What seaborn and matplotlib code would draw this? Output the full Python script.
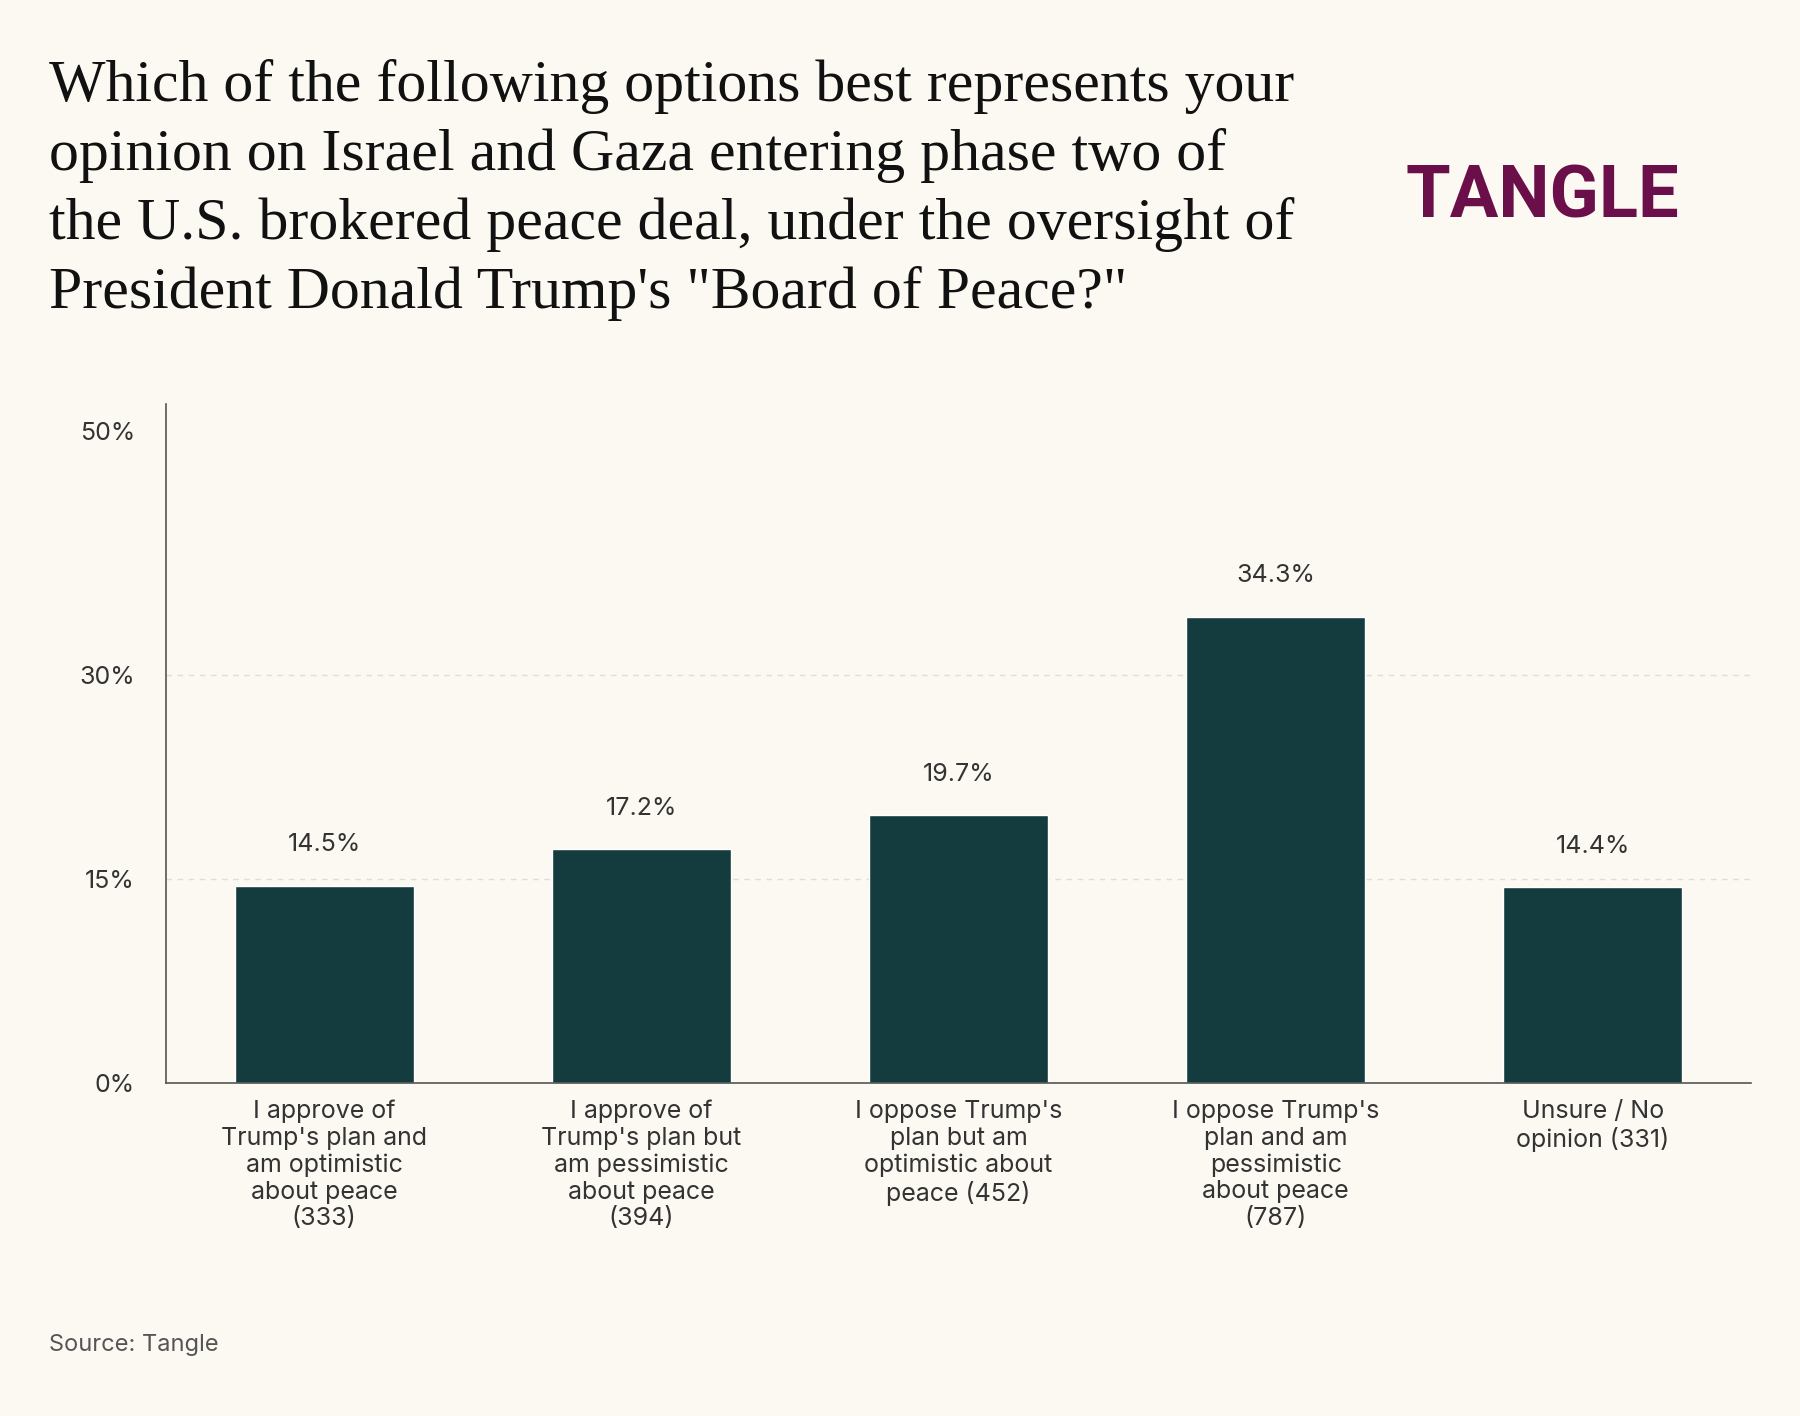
import matplotlib
matplotlib.use("Agg")
import matplotlib.pyplot as plt
import seaborn as sns
import pandas as pd

categories = [
    "I approve of\nTrump's plan and\nam optimistic\nabout peace\n(333)",
    "I approve of\nTrump's plan but\nam pessimistic\nabout peace\n(394)",
    "I oppose Trump's\nplan but am\noptimistic about\npeace (452)",
    "I oppose Trump's\nplan and am\npessimistic\nabout peace\n(787)",
    "Unsure / No\nopinion (331)",
]
values = [14.5, 17.2, 19.7, 34.3, 14.4]
yticks = [0, 15, 30, 48]
ytick_labels = ["0%", "15%", "30%", "50%"]

BG = "#FBF9F2"
BAR = "#143C3F"

sns.set_theme(style="white")
plt.rcParams["font.family"] = ["Inter", "DejaVu Sans"]

fig = plt.figure(figsize=(18, 14.16), dpi=100, facecolor=BG)
ax = fig.add_axes([0.092, 0.235, 0.881, 0.48], facecolor=BG)

df = pd.DataFrame({"cat": categories, "val": values})
sns.barplot(data=df, x="cat", y="val", color=BAR, saturation=1, width=0.565, ax=ax)

for i, v in enumerate(values):
    ax.text(i, v + 2.2, f"{v}%", ha="center", va="bottom", fontsize=18, color="#333333")

ax.set_ylim(0, 50)
ax.set_xlim(-0.5, 4.5)
ax.set_yticks(yticks)
ax.set_yticklabels(ytick_labels, fontsize=18, color="#333333")
ax.tick_params(axis="x", labelsize=18, colors="#333333", length=0, pad=12)
ax.tick_params(axis="y", length=0, pad=22)
for t in [15, 30]:
    ax.axhline(t, color="#dddddd", lw=1, ls=(0, (4, 4)), zorder=0)
ax.set_xlabel("")
ax.set_ylabel("")
for s in ["top", "right"]:
    ax.spines[s].set_visible(False)
for s in ["left", "bottom"]:
    ax.spines[s].set_color("#555555")
    ax.spines[s].set_linewidth(1.2)

fig.text(0.027, 0.958,
         "Which of the following options best represents your\n"
         "opinion on Israel and Gaza entering phase two of\n"
         "the U.S. brokered peace deal, under the oversight of\n"
         "President Donald Trump's \"Board of Peace?\"",
         ha="left", va="top", fontsize=43, family="Liberation Serif",
         color="#111111", linespacing=1.33)
fig.text(0.933, 0.86, "TANGLE", ha="right", va="center", fontsize=52,
         fontweight="bold", color="#6B0F4A", family="Roboto")
fig.text(0.027, 0.05, "Source: Tangle", ha="left", va="center", fontsize=17, color="#555555")

fig.savefig("out.png", dpi=100, facecolor=BG)
